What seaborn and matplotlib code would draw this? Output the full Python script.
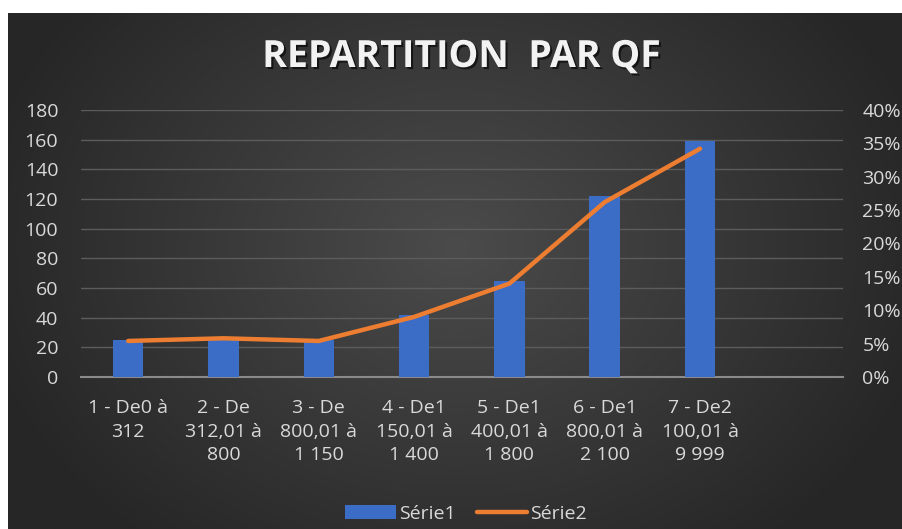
import numpy as np
import pandas as pd
import matplotlib
matplotlib.use("Agg")
import matplotlib.pyplot as plt
import matplotlib.patheffects as pe
from matplotlib.ticker import PercentFormatter, MultipleLocator
from matplotlib.patches import Patch
from matplotlib.lines import Line2D
import seaborn as sns

# ---- data ----
categories = ["1 - De0 à\n312", "2 - De\n312,01 à\n800", "3 - De\n800,01 à\n1 150",
              "4 - De1\n150,01 à\n1 400", "5 - De1\n400,01 à\n1 800",
              "6 - De1\n800,01 à\n2 100", "7 - De2\n100,01 à\n9 999", " "]
serie1 = [25, 27, 25, 42, 65, 122, 159]
serie2 = [0.054, 0.058, 0.054, 0.090, 0.140, 0.262, 0.342]
title = "REPARTITION  PAR QF"

df = pd.DataFrame({"cat": categories[:7], "Série1": serie1, "Série2": serie2})

sns.set_theme(style="white")
plt.rcParams['font.family'] = ['Open Sans', 'DejaVu Sans']

W, H = 903, 529
fig = plt.figure(figsize=(W / 100, H / 100), dpi=100, facecolor="white")

# gradient background panel
bg = fig.add_axes([8 / W, 0, (W - 8) / W, (H - 13) / H], zorder=-10)
ny, nx = 300, 500
yy, xx = np.mgrid[0:ny, 0:nx]
cx, cy = nx * 0.5, ny * 0.45
r = np.sqrt(((xx - cx) / (nx * 0.55)) ** 2 + ((yy - cy) / (ny * 0.75)) ** 2)
r = np.clip(r, 0, 1)
c_in = np.array([0x4b, 0x4b, 0x4b]) / 255
c_out = np.array([0x26, 0x26, 0x26]) / 255
img = c_in[None, None, :] * (1 - r[..., None]) + c_out[None, None, :] * r[..., None]
bg.imshow(img, aspect="auto", extent=[0, 1, 0, 1], origin="upper")
bg.set_axis_off()

ax = fig.add_axes([80.5 / W, 1 - 377 / H, (843 - 80.5) / W, (377 - 110) / H])
ax.set_facecolor("none")

sns.barplot(data=df, x="cat", y="Série1", order=categories, color="#3b6dc6",
            width=0.32, ax=ax, saturation=1, zorder=3, edgecolor="none", linewidth=0)
ax.set_ylim(0, 180)
ax.yaxis.set_major_locator(MultipleLocator(20))
ax.set_xlim(-0.5, 7.5)
ax.grid(axis="y", color="#5c5c5c", lw=1, zorder=0)
ax.set_axisbelow(True)
for s in ["top", "right", "left"]:
    ax.spines[s].set_visible(False)
ax.spines["bottom"].set_color("#8a8a8a")
ax.spines["bottom"].set_linewidth(1.5)
ax.set_xlabel("")
ax.set_ylabel("")
ax.tick_params(axis="y", length=0, pad=16, labelsize=14, labelcolor="#d9d9d9")
ax.tick_params(axis="x", length=0, pad=16, labelsize=14, labelcolor="#d9d9d9")
ax.set_xticks(range(len(categories)))
ax.set_xticklabels(categories, linespacing=1.4, va="top")

ax2 = ax.twinx()
sns.pointplot(data=df, x="cat", y="Série2", order=categories, color="#ed7d31",
              markers="", linestyles="-", ax=ax2, errorbar=None)
for ln in ax2.lines:
    ln.set_linewidth(3.2)
    ln.set_solid_capstyle("round")
    ln.set_solid_joinstyle("round")
ax2.set_xlim(-0.5, 7.5)
ax2.set_ylim(0, 0.40)
ax2.yaxis.set_major_locator(MultipleLocator(0.05))
ax2.yaxis.set_major_formatter(PercentFormatter(1.0, decimals=0))
for s in ["top", "right", "left", "bottom"]:
    ax2.spines[s].set_visible(False)
ax2.set_ylabel("")
ax2.set_xlabel("")
ax2.grid(False)
ax2.tick_params(axis="y", length=0, pad=14, labelsize=14, labelcolor="#d9d9d9")

fig.text(461.5 / W, 1 - 57 / H, title, ha="center", va="center", fontsize=27,
         fontweight="bold", color="#f2f2f2",
         path_effects=[pe.withSimplePatchShadow(offset=(1.5, -1.5), shadow_rgbFace="black", alpha=0.6)])

handles = [Patch(facecolor="#3b6dc6", edgecolor="none"),
           Line2D([0], [0], color="#ed7d31", lw=3.2)]
leg = fig.legend(handles, ["Série1", "Série2"], loc="center", bbox_to_anchor=(466 / W, 1 - 514 / H),
                 ncol=2, frameon=False, fontsize=14, handlelength=2.6, handleheight=0.7,
                 columnspacing=1.1, handletextpad=0.15)
for t in leg.get_texts():
    t.set_color("#d9d9d9")

fig.savefig("out.png", dpi=100, facecolor="white")
